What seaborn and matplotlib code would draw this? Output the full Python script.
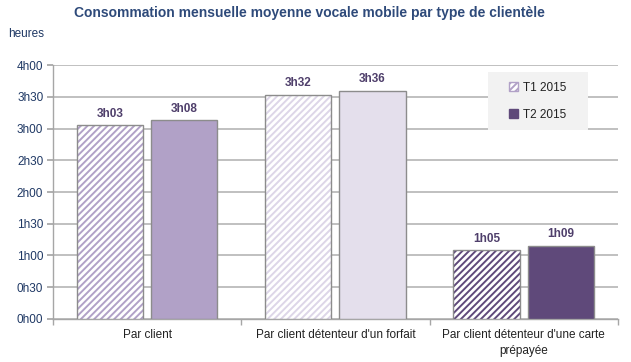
import pandas as pd
import seaborn as sns
import matplotlib.pyplot as plt
from matplotlib.patches import Patch, Rectangle
from matplotlib.ticker import FuncFormatter, FixedLocator

sns.set_theme(style="white")
plt.rcParams["font.family"] = ["Liberation Sans", "DejaVu Sans"]
plt.rcParams["hatch.linewidth"] = 1.4

categories = ["Par client", "Par client détenteur d'un forfait",
              "Par client détenteur d'une carte\nprépayée"]
periods = ["T1 2015", "T2 2015"]
t1_minutes = [183, 212, 65]
t2_minutes = [188, 216, 69]
cat_colors = ["#b1a1c7", "#e4dfec", "#5f497a"]
hatch_colors = ["#b1a1c7", "#ddd6e8", "#5f497a"]

df = pd.DataFrame({
    "categorie": categories * 2,
    "periode": [periods[0]] * 3 + [periods[1]] * 3,
    "minutes": t1_minutes + t2_minutes,
})

def hm(m, pos=None):
    m = int(round(m))
    return f"{m // 60}h{m % 60:02d}"

fig = plt.figure(figsize=(6.31, 3.62), dpi=100)
ax = fig.add_axes([0.084, 0.119, 0.895, 0.701])

sns.barplot(data=df, x="categorie", y="minutes", hue="periode", order=categories,
            hue_order=periods, width=0.79, gap=0.11, ax=ax, legend=False, zorder=3)

blue = "#1f3864"
edge = "#8c8c8c"
for h, cont in enumerate(ax.containers):
    for i, bar in enumerate(cont):
        if h == 0:
            bar.set_facecolor("white")
            bar.set_edgecolor(hatch_colors[i])
            bar.set_hatch("/////")
            bar.set_linewidth(0)
            ax.add_patch(Rectangle(bar.get_xy(), bar.get_width(), bar.get_height(),
                                   fill=False, edgecolor=edge, linewidth=1, zorder=4))
        else:
            bar.set_facecolor(cat_colors[i])
            bar.set_edgecolor(edge)
            bar.set_linewidth(1)
    vals = t1_minutes if h == 0 else t2_minutes
    ax.bar_label(cont, labels=[hm(v) for v in vals], padding=4, fontsize=8.5,
                 fontweight="bold", color="#4f3f6b")

ax.set_ylim(0, 240)
ax.set_xlim(-0.5, 2.5)
ax.yaxis.set_major_locator(FixedLocator(range(0, 241, 30)))
ax.yaxis.set_major_formatter(FuncFormatter(hm))
ax.grid(axis="y", color="#c0c0c0", linewidth=1.4, zorder=0)
ax.set_axisbelow(True)
for s in ["top", "right"]:
    ax.spines[s].set_visible(False)
for s in ["left", "bottom"]:
    ax.spines[s].set_color("#a6a6a6")
    ax.spines[s].set_linewidth(1)
ax.tick_params(axis="y", left=True, length=4, color="#a6a6a6", labelsize=8.5,
               labelcolor=blue, pad=3)
ax.tick_params(axis="x", bottom=False, labelsize=8.5, labelcolor="#222222", pad=1.5)
for t in ax.get_xticklabels():
    t.set_linespacing(1.4)
    t.set_va("top")
ax.xaxis.set_minor_locator(FixedLocator([-0.5, 0.5, 1.5, 2.5]))
ax.tick_params(axis="x", which="minor", bottom=True, length=4, color="#a6a6a6")
ax.set_xlabel("")
ax.set_ylabel("")

# legend background box
ax.add_patch(Rectangle((0.770, 0.744), 0.177, 0.228, transform=ax.transAxes,
                       facecolor="#f2f2f2", edgecolor="none", zorder=5))
handles = [Patch(facecolor="white", edgecolor=hatch_colors[0], hatch="/////", label=periods[0]),
           Patch(facecolor=cat_colors[2], edgecolor=cat_colors[2], label=periods[1])]
leg = ax.legend(handles=handles, loc="center", bbox_to_anchor=(0.858, 0.858),
                frameon=False, fontsize=8.5, handlelength=0.8, handleheight=0.8,
                handletextpad=0.4, labelspacing=1.3, borderpad=0.2)
leg.set_zorder(6)
for t in leg.get_texts():
    t.set_color("#222222")

fig.text(0.49, 0.965, "Consommation mensuelle moyenne vocale mobile par type de clientèle",
         ha="center", va="center", fontsize=10, fontweight="bold", color="#2e4a7a")
fig.text(0.013, 0.905, "heures", ha="left", va="center", fontsize=8.5, color=blue)

fig.savefig("out.png", dpi=100)
